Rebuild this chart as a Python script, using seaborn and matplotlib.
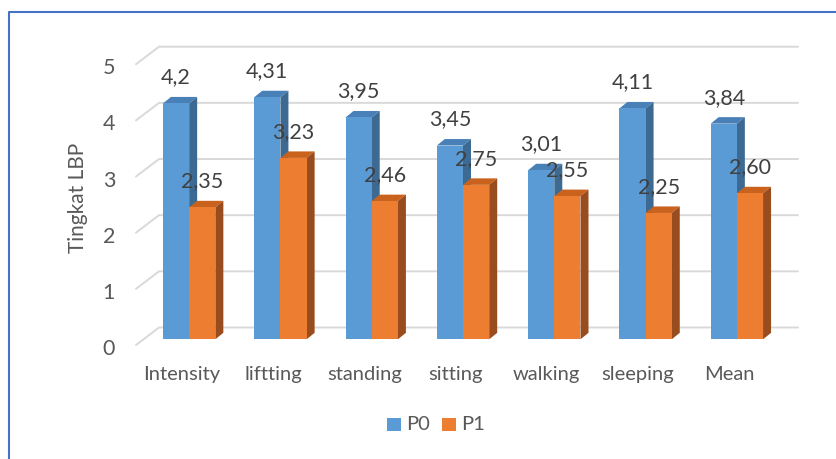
import numpy as np
import pandas as pd
import matplotlib
matplotlib.use("Agg")
import matplotlib.pyplot as plt
import matplotlib.transforms as mtransforms
from matplotlib.patches import Polygon, Rectangle
from matplotlib.lines import Line2D
import seaborn as sns

# ---- data -------------------------------------------------------------
categories = ["Intensity", "liftting", "standing", "sitting", "walking", "sleeping", "Mean"]
series_names = ["P0", "P1"]
p0_labels = ["4,2", "4,31", "3,95", "3,45", "3,01", "4,11", "3,84"]
p1_labels = ["2,35", "3,23", "2,46", "2,75", "2,55", "2,25", "2,60"]
y_ticks = [0, 1, 2, 3, 4, 5]
y_title = "Tingkat LBP"

p0_values = [float(s.replace(",", ".")) for s in p0_labels]
p1_values = [float(s.replace(",", ".")) for s in p1_labels]

# ---- style ------------------------------------------------------------
BLUE, ORANGE = "#5b9bd5", "#ed7d31"
BLUE_TOP, BLUE_SIDE = "#4a80b8", "#3c6a93"
ORANGE_TOP, ORANGE_SIDE = "#c8621c", "#994c1d"
GRID = "#d9d9d9"
TEXT = "#595959"
FS = 14.5
FS_VAL = 15.5

sns.set_theme(style="white")
plt.rcParams["font.family"] = ["Lato", "DejaVu Sans"]

W, H, DPI = 837, 459, 100
fig = plt.figure(figsize=(W / DPI, H / DPI), dpi=DPI)

# plot area in pixels (bar plane)
left_px, right_px = 143.5, 782.5
base_px, top_px = 339.3, 58.5
ax = fig.add_axes([left_px / W, (H - base_px) / H,
                   (right_px - left_px) / W, (base_px - top_px) / H])

df = pd.DataFrame({
    "category": categories * 2,
    "series": [series_names[0]] * len(categories) + [series_names[1]] * len(categories),
    "value": p0_values + p1_values,
})
sns.barplot(data=df, x="category", y="value", hue="series",
            palette=[BLUE, ORANGE], saturation=1, width=0.574,
            legend=False, ax=ax, zorder=3, linewidth=0)

ax.set_xlim(-0.5, 6.5)
ax.set_ylim(0, 5)
ax.set_yticks(y_ticks)
ax.set_yticklabels([str(t) for t in y_ticks])
ax.set_xlabel("")
ax.set_ylabel("")
for s in ax.spines.values():
    s.set_visible(False)
ax.grid(False)
ax.patch.set_alpha(0)
ax.tick_params(axis="both", length=0, labelsize=FS, colors=TEXT)
ax.tick_params(axis="y", pad=15, labelsize=15.5)
ax.tick_params(axis="x", pad=15)

# depth offsets in pixels (x right, y up)
FRONT = np.array([-7.5, -5.7])
BACK = np.array([15.5, 11.8])
DEPTH = np.array([8.0, 6.5])

ident = mtransforms.IdentityTransform()

def shift(dx, dy):
    return mtransforms.ScaledTranslation(dx / DPI, dy / DPI, fig.dpi_scale_trans)

for lab in ax.get_yticklabels():
    lab.set_transform(lab.get_transform() + shift(FRONT[0], FRONT[1] - 2))
for lab in ax.get_xticklabels():
    lab.set_transform(lab.get_transform() + shift(FRONT[0], FRONT[1]))

# floor/back-wall gridlines
for t in y_ticks:
    p = ax.transData.transform((-0.5, t))
    q = ax.transData.transform((6.5, t))
    a, b, c = p + FRONT, p + BACK, q + BACK
    ax.add_line(Line2D([a[0], b[0], c[0]], [a[1], b[1], c[1]],
                       transform=ident, color=GRID, lw=1.4, zorder=1,
                       solid_joinstyle="miter", clip_on=False))

# 3-D faces for each bar
n = len(categories)
bars = list(ax.patches)
order = []
for i in range(n):
    order.append((bars[i], BLUE_TOP, BLUE_SIDE, p0_labels[i]))
    order.append((bars[n + i], ORANGE_TOP, ORANGE_SIDE, p1_labels[i]))

z = 5
for bar, ctop, cside, txt in order:
    x0, y0 = bar.get_x(), bar.get_y()
    w, h = bar.get_width(), bar.get_height()
    bl = ax.transData.transform((x0, y0))
    br = ax.transData.transform((x0 + w, y0))
    tl = ax.transData.transform((x0, y0 + h))
    tr = ax.transData.transform((x0 + w, y0 + h))
    for pts, col, dz in [([tl, tr, tr + DEPTH, tl + DEPTH], ctop, 0.1),
                         ([br, tr, tr + DEPTH, br + DEPTH], cside, 0.1),
                         ([bl, br, tr, tl], bar.get_facecolor(), 0.2)]:
        ax.add_patch(Polygon(pts, closed=True, transform=ident, facecolor=col,
                             edgecolor="none", zorder=z + dz, clip_on=False))
    bar.set_visible(False)
    z += 1

# value labels
for bar, _, _, txt in order:
    cx = bar.get_x() + bar.get_width() / 2
    top = bar.get_y() + bar.get_height()
    ax.annotate(txt, xy=(cx, top), xytext=(0, 20 * 72 / DPI),
                textcoords="offset points", ha="center", va="baseline",
                fontsize=FS_VAL, color="#404040", annotation_clip=False, zorder=50)

# axis title
fig.text(78 / W, 1 - 198 / H, y_title, rotation=90, ha="center", va="center",
         fontsize=15, color=TEXT)

# legend
for sq_x, txt_x, col, name in [(386.7, 406.5, BLUE, series_names[0]),
                               (441.7, 461.0, ORANGE, series_names[1])]:
    fig.add_artist(Rectangle((sq_x / W, 1 - 431 / H), 14 / W, 13.5 / H,
                             transform=fig.transFigure, facecolor=col, edgecolor="none"))
    fig.text(txt_x / W, 1 - 424 / H, name, ha="left", va="center",
             fontsize=FS, color=TEXT)

# chart frame
fig.add_artist(Line2D([8.7 / W, 8.7 / W, 1.0], [0.0, 1 - 11.5 / H, 1 - 11.5 / H],
                      transform=fig.transFigure, color="#4472c4", lw=1.5))

fig.savefig("out.png", dpi=DPI, facecolor="white")
